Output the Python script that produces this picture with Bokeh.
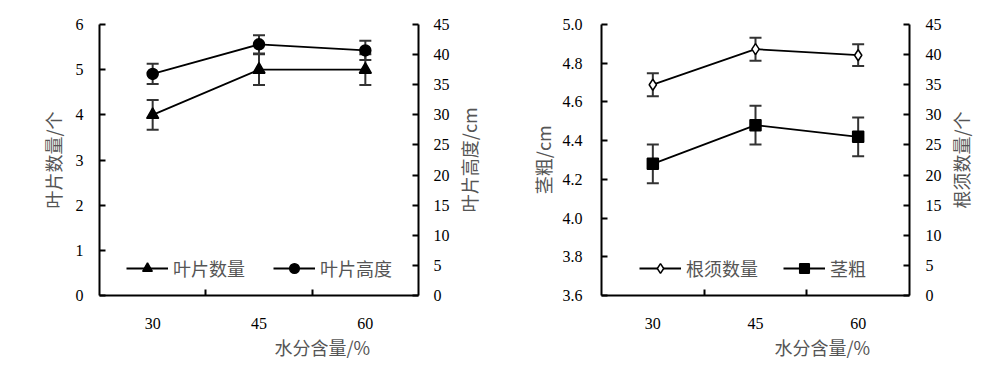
from bokeh.plotting import figure
from bokeh.models import (Range1d, LinearAxis, FixedTicker, Whisker, TeeHead,
                          ColumnDataSource, Legend, LegendItem, Title, NumeralTickFormatter)
from bokeh.layouts import row
from bokeh.embed import file_html
from bokeh.resources import INLINE

# ---------------- data ----------------
categories = ["30", "45", "60"]
x_title = "水分含量/%"

# left panel
leaf_count = [4.0, 5.0, 5.0]          # 叶片数量/个 (left axis)
leaf_count_err = [0.33, 0.34, 0.34]
leaf_height = [36.8, 41.7, 40.7]      # 叶片高度/cm (right axis)
leaf_height_err = [1.7, 1.5, 1.6]

# right panel
root_count = [35.0, 40.9, 39.9]       # 根须数量/个 (right axis)
root_count_err = [1.9, 1.9, 1.8]
stem = [4.28, 4.48, 4.42]             # 茎粗/cm (left axis)
stem_err = [0.10, 0.10, 0.10]

CJK = "Noto Sans CJK SC"
SERIF = "Liberation Serif"
CJK_COLOR = "#555555"
H = 370
xs = list(range(len(categories)))


def style_axis(ax, label_standoff, title_standoff):
    ax.axis_line_color = "black"
    ax.axis_line_width = 2
    ax.major_tick_in = 6
    ax.major_tick_out = 0
    ax.major_tick_line_width = 2
    ax.major_tick_line_color = "black"
    ax.minor_tick_line_color = None
    ax.major_label_text_font = SERIF
    ax.major_label_text_font_size = "16px"
    ax.major_label_text_color = "black"
    ax.major_label_standoff = label_standoff
    ax.axis_label_text_font = CJK
    ax.axis_label_text_font_size = "18px"
    ax.axis_label_text_font_style = "normal"
    ax.axis_label_text_color = CJK_COLOR
    ax.axis_label_standoff = title_standoff


def title_strip(width, text, top, bottom):
    """Narrow figure whose (bottom-to-top) axis title sits right of a panel."""
    s = figure(width=width, height=H, x_range=Range1d(0, 1), y_range=Range1d(0, 1),
               output_backend="svg", toolbar_location=None, min_border_left=0,
               min_border_right=0, min_border_top=top, min_border_bottom=bottom,
               outline_line_color=None, background_fill_color="white",
               border_fill_color="white")
    s.xaxis.visible = False
    s.xgrid.visible = False
    s.ygrid.visible = False
    ya = s.yaxis[0]
    ya.ticker = FixedTicker(ticks=[])
    ya.axis_line_color = None
    ya.major_tick_line_color = None
    ya.minor_tick_line_color = None
    ya.major_tick_in = 0
    ya.major_tick_out = 0
    ya.major_label_standoff = 0
    ya.axis_label = text
    ya.axis_label_standoff = 0
    ya.axis_label_text_font = CJK
    ya.axis_label_text_font_size = "18px"
    ya.axis_label_text_font_style = "normal"
    ya.axis_label_text_color = CJK_COLOR
    return s


def make_panel(width, borders, left_range, left_ticks, left_fmt, left_title,
               right_range, right_ticks,
               s_left, e_left, m_left, msize_left, fill_left, name_left,
               s_right, e_right, m_right, msize_right, fill_right, name_right,
               legend_loc, legend_spacing, legend_first_right,
               xtitle_offset, left_lab_standoff, left_title_standoff, right_lab_standoff):
    bl, br, bt, bb = borders
    p = figure(width=width, height=H, x_range=Range1d(-0.5, 2.5),
               y_range=Range1d(*left_range), output_backend="svg",
               toolbar_location=None, min_border_left=bl, min_border_right=br,
               min_border_top=bt, min_border_bottom=bb, outline_line_color=None,
               background_fill_color="white", border_fill_color="white")
    p.xgrid.visible = False
    p.ygrid.visible = False
    p.extra_y_ranges = {"r": Range1d(*right_range)}

    # x axis: labels at category centres, ticks between categories
    xa = p.xaxis[0]
    xa.ticker = FixedTicker(ticks=xs, minor_ticks=[0.5, 1.5])
    xa.major_label_overrides = {i: c for i, c in zip(xs, categories)}
    style_axis(xa, 22, 5)
    xa.major_tick_line_color = None
    xa.minor_tick_line_color = "black"
    xa.minor_tick_line_width = 2
    xa.minor_tick_in = 6
    xa.minor_tick_out = 0

    ya = p.yaxis[0]
    ya.ticker = FixedTicker(ticks=left_ticks)
    if left_fmt:
        ya.formatter = NumeralTickFormatter(format=left_fmt)
    ya.axis_label = left_title
    style_axis(ya, left_lab_standoff, left_title_standoff)

    ra = LinearAxis(y_range_name="r", ticker=FixedTicker(ticks=right_ticks))
    style_axis(ra, right_lab_standoff, 4)
    p.add_layout(ra, "right")

    series = [
        (s_left, e_left, m_left, msize_left, fill_left, "default"),
        (s_right, e_right, m_right, msize_right, fill_right, "r"),
    ]
    rends = []
    for vals, errs, marker, msize, fill, rng in series:
        src = ColumnDataSource(dict(x=xs, y=vals,
                                    up=[v + e for v, e in zip(vals, errs)],
                                    lo=[v - e for v, e in zip(vals, errs)]))
        w = Whisker(base="x", upper="up", lower="lo", source=src,
                    y_range_name=rng, line_color="#333333", line_width=2,
                    upper_head=TeeHead(size=12, line_width=2, line_color="#333333"),
                    lower_head=TeeHead(size=12, line_width=2, line_color="#333333"),
                    level="underlay")
        p.add_layout(w)
        ln = p.line("x", "y", source=src, line_color="black", line_width=1.8,
                    y_range_name=rng)
        sc = p.scatter("x", "y", source=src, size=msize, marker=marker,
                       fill_color=fill, line_color="black", line_width=1.5,
                       y_range_name=rng)
        rends.append([ln, sc])

    names = [name_left, name_right]
    order = [1, 0] if legend_first_right else [0, 1]
    items = [LegendItem(label=names[i], renderers=rends[i]) for i in order]
    lg = Legend(items=items, orientation="horizontal", location=legend_loc,
                spacing=legend_spacing, padding=0, margin=0,
                border_line_color=None, background_fill_alpha=0,
                glyph_width=42, glyph_height=24, label_standoff=5,
                label_text_font=CJK, label_text_font_size="18px",
                label_text_color=CJK_COLOR)
    p.add_layout(lg)

    t = Title(text=x_title, align="left", offset=xtitle_offset, standoff=0,
              text_font=CJK, text_font_size="18px", text_font_style="normal",
              text_color=CJK_COLOR)
    p.add_layout(t, "below")
    return p


p1 = make_panel(
    452, (99, 34, 24, 71),
    (0, 6), [0, 1, 2, 3, 4, 5, 6], None, "叶片数量/个",
    (0, 45), list(range(0, 50, 5)),
    leaf_count, leaf_count_err, "triangle", 12, "black", "叶片数量",
    leaf_height, leaf_height_err, "circle", 11, "black", "叶片高度",
    (27, 14), 28, False,
    175, 16, 7, 15)
p1r = title_strip(48, "叶片高度/cm", 24, 50)

p2 = make_panel(
    444, (101, 34, 24, 75),
    (3.6, 5.0), [3.6, 3.8, 4.0, 4.2, 4.4, 4.6, 4.8, 5.0], "0.0", "茎粗/cm",
    (0, 45), list(range(0, 50, 5)),
    stem, stem_err, "square", 11, "black", "茎粗",
    root_count, root_count_err, "diamond", 11, "white", "根须数量",
    (38, 14), 25, True,
    173, 19, 4, 16)
p2r = title_strip(56, "根须数量/个", 24, 73)

layout = row(p1, p1r, p2, p2r)
open("out.html", "w").write(file_html(layout, INLINE))
